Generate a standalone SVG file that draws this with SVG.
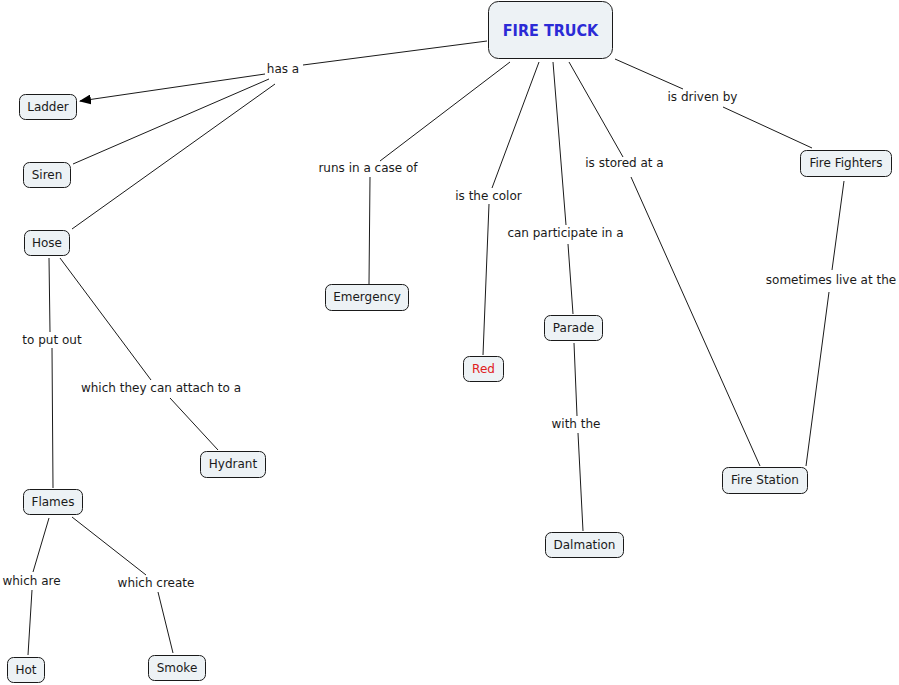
<svg xmlns="http://www.w3.org/2000/svg" width="899" height="685" viewBox="0 0 899 685">
<style>
.n rect{fill:#edf2f5;stroke:#1a1a1a;stroke-width:1}
.n text{font-family:"DejaVu Sans",Verdana,sans-serif;font-size:12px;fill:#1a1a1a;text-anchor:middle}
.lbl{font-family:"DejaVu Sans",Verdana,sans-serif;font-size:12px;fill:#1a1a1a;text-anchor:middle}
#links line{stroke:#1a1a1a;stroke-width:1}
</style>
<defs>
<marker id="arr" markerWidth="12" markerHeight="10" refX="11" refY="5" orient="auto" markerUnits="userSpaceOnUse">
<path d="M0,0 L12,5 L0,10 z" fill="#000"/>
</marker>
</defs>
<rect width="899" height="685" fill="#fff"/>
<g id="links">
<line x1="487" y1="41" x2="303" y2="65"/>
<line x1="265" y1="74" x2="80" y2="101" marker-end="url(#arr)"/>
<line x1="269" y1="79" x2="73" y2="164"/>
<line x1="275" y1="84" x2="72" y2="229"/>
<line x1="510" y1="62" x2="380" y2="161"/>
<line x1="370" y1="177" x2="369" y2="284"/>
<line x1="539" y1="62" x2="492" y2="188"/>
<line x1="489" y1="204" x2="483" y2="355"/>
<line x1="553" y1="62" x2="566" y2="225"/>
<line x1="568" y1="244" x2="573" y2="314"/>
<line x1="569" y1="62" x2="623" y2="157"/>
<line x1="631" y1="177" x2="760" y2="466"/>
<line x1="615" y1="59" x2="683" y2="89"/>
<line x1="723" y1="107" x2="812" y2="148"/>
<line x1="844" y1="181" x2="832" y2="270"/>
<line x1="829" y1="292" x2="806" y2="466"/>
<line x1="49" y1="258" x2="50" y2="332"/>
<line x1="52" y1="348" x2="53" y2="488"/>
<line x1="60" y1="258" x2="151" y2="380"/>
<line x1="170" y1="398" x2="218" y2="450"/>
<line x1="49" y1="518" x2="33" y2="572"/>
<line x1="32" y1="590" x2="28" y2="655"/>
<line x1="72" y1="517" x2="146" y2="575"/>
<line x1="158" y1="592" x2="173" y2="653"/>
<line x1="574" y1="343" x2="577" y2="416"/>
<line x1="578" y1="433" x2="583" y2="531"/>
</g>
<g id="labels">
<text class="lbl" x="283" y="73">has a</text>
<text class="lbl" x="368" y="172">runs in a case of</text>
<text class="lbl" x="488.5" y="200">is the color</text>
<text class="lbl" x="565.5" y="237">can participate in a</text>
<text class="lbl" x="624.5" y="167">is stored at a</text>
<text class="lbl" x="702.5" y="101">is driven by</text>
<text class="lbl" x="831" y="284">sometimes live at the</text>
<text class="lbl" x="52" y="344">to put out</text>
<text class="lbl" x="161" y="392">which they can attach to a</text>
<text class="lbl" x="31.5" y="585">which are</text>
<text class="lbl" x="156" y="587">which create</text>
<text class="lbl" x="576" y="428">with the</text>
</g>
<g id="fire-truck" class="n"><rect x="488.5" y="1.5" width="124" height="57" rx="10"/><text x="550.5" y="36" style="font-size:16px;fill:#2b2bd6;font-weight:bold;font-family:'DejaVu Sans Condensed','DejaVu Sans',sans-serif">FIRE TRUCK</text></g>
<g id="ladder" class="n"><rect x="19.5" y="94.5" width="57" height="25" rx="6"/><text x="48" y="111">Ladder</text></g>
<g id="siren" class="n"><rect x="23.5" y="162.5" width="47" height="25" rx="6"/><text x="47" y="179">Siren</text></g>
<g id="hose" class="n"><rect x="24.5" y="230.5" width="45" height="25" rx="6"/><text x="47" y="247">Hose</text></g>
<g id="flames" class="n"><rect x="23.5" y="489.5" width="59" height="25" rx="6"/><text x="53" y="506">Flames</text></g>
<g id="hot" class="n"><rect x="7.5" y="657.5" width="37" height="25" rx="6"/><text x="26" y="674">Hot</text></g>
<g id="smoke" class="n"><rect x="148.5" y="655.5" width="57" height="25" rx="6"/><text x="177" y="672">Smoke</text></g>
<g id="hydrant" class="n"><rect x="200.5" y="451.5" width="65" height="26" rx="6"/><text x="233" y="468">Hydrant</text></g>
<g id="emergency" class="n"><rect x="325.5" y="284.5" width="83" height="26" rx="6"/><text x="367" y="301">Emergency</text></g>
<g id="red" class="n"><rect x="463.5" y="356.5" width="40" height="25" rx="6"/><text x="483.5" y="373" style="fill:#e02020">Red</text></g>
<g id="parade" class="n"><rect x="544.5" y="315.5" width="58" height="25" rx="6"/><text x="573.5" y="332">Parade</text></g>
<g id="dalmation" class="n"><rect x="545.5" y="532.5" width="78" height="25" rx="6"/><text x="584.5" y="549">Dalmation</text></g>
<g id="fire-station" class="n"><rect x="722.5" y="467.5" width="85" height="26" rx="6"/><text x="765" y="484">Fire Station</text></g>
<g id="fire-fighters" class="n"><rect x="800.5" y="150.5" width="91" height="26" rx="6"/><text x="846" y="167">Fire Fighters</text></g>
</svg>
